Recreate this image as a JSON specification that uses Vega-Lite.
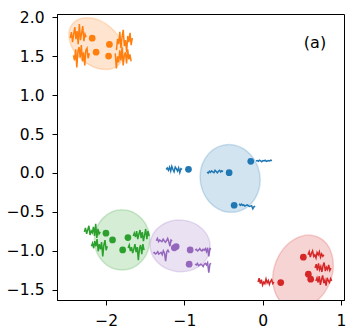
{
"$schema": "https://vega.github.io/schema/vega-lite/v6.json",
"width": 287, "height": 286,
"autosize": {"type": "none"},
"padding": {"left": 57, "top": 14, "right": 16, "bottom": 36},
"background": "white",
"config": {
  "view": {"stroke": "black", "strokeWidth": 1},
  "axis": {"grid": false, "title": null, "domainColor": "black", "domainWidth": 1, "tickColor": "black", "tickSize": 5, "tickWidth": 1, "labelFont": "DejaVu Sans", "labelFontSize": 15.5, "labelColor": "black", "labelPadding": 8}
},
"datasets": {
  "ellipses": [
    {"c": "orange", "x": -2.128, "y": 1.66, "d": 0.79, "a": 40},
    {"c": "blue", "x": -0.416, "y": -0.07, "d": 0.87, "a": 80},
    {"c": "green", "x": -1.798, "y": -0.859, "d": 0.77, "a": 90},
    {"c": "purple", "x": -1.055, "y": -0.936, "d": 0.77, "a": 5},
    {"c": "red", "x": 0.516, "y": -1.27, "d": 0.97, "a": 292}
  ],
  "dots": [
    {"c": "orange", "x": -2.18, "y": 1.73}, {"c": "orange", "x": -1.96, "y": 1.65}, {"c": "orange", "x": -2.13, "y": 1.55}, {"c": "orange", "x": -1.97, "y": 1.50},
    {"c": "blue", "x": -0.949, "y": 0.047}, {"c": "blue", "x": -0.429, "y": 0.004}, {"c": "blue", "x": -0.152, "y": 0.15}, {"c": "blue", "x": -0.365, "y": -0.414},
    {"c": "green", "x": -2.004, "y": -0.773}, {"c": "green", "x": -1.92, "y": -0.859}, {"c": "green", "x": -1.723, "y": -0.829}, {"c": "green", "x": -1.79, "y": -0.987},
    {"c": "purple", "x": -1.106, "y": -0.945}, {"c": "purple", "x": -1.13, "y": -0.96}, {"c": "purple", "x": -0.927, "y": -0.987}, {"c": "purple", "x": -0.94, "y": -1.17},
    {"c": "red", "x": 0.52, "y": -1.08}, {"c": "red", "x": 0.231, "y": -1.406}, {"c": "red", "x": 0.584, "y": -1.299}, {"c": "red", "x": 0.614, "y": -1.363}
  ],
  "glyphs": [
    {"g":"o1","c":"orange","x":-2.460,"y":1.730},{"g":"o1","c":"orange","x":-2.446,"y":1.808},{"g":"o1","c":"orange","x":-2.431,"y":1.678},{"g":"o1","c":"orange","x":-2.417,"y":1.782},{"g":"o1","c":"orange","x":-2.402,"y":1.873},{"g":"o1","c":"orange","x":-2.388,"y":1.717},{"g":"o1","c":"orange","x":-2.373,"y":1.821},{"g":"o1","c":"orange","x":-2.359,"y":1.652},{"g":"o1","c":"orange","x":-2.344,"y":1.912},{"g":"o1","c":"orange","x":-2.330,"y":1.704},{"g":"o1","c":"orange","x":-2.315,"y":1.795},{"g":"o1","c":"orange","x":-2.301,"y":1.886},{"g":"o1","c":"orange","x":-2.286,"y":1.691},{"g":"o1","c":"orange","x":-2.272,"y":1.782},{"g":"o1","c":"orange","x":-2.257,"y":1.743},
    {"g":"o2","c":"orange","x":-2.420,"y":1.510},{"g":"o2","c":"orange","x":-2.406,"y":1.445},{"g":"o2","c":"orange","x":-2.391,"y":1.588},{"g":"o2","c":"orange","x":-2.377,"y":1.354},{"g":"o2","c":"orange","x":-2.362,"y":1.562},{"g":"o2","c":"orange","x":-2.348,"y":1.614},{"g":"o2","c":"orange","x":-2.333,"y":1.484},{"g":"o2","c":"orange","x":-2.319,"y":1.640},{"g":"o2","c":"orange","x":-2.304,"y":1.432},{"g":"o2","c":"orange","x":-2.290,"y":1.549},{"g":"o2","c":"orange","x":-2.275,"y":1.380},{"g":"o2","c":"orange","x":-2.261,"y":1.575},{"g":"o2","c":"orange","x":-2.246,"y":1.601},{"g":"o2","c":"orange","x":-2.232,"y":1.471},{"g":"o2","c":"orange","x":-2.217,"y":1.536},
    {"g":"o3","c":"orange","x":-1.870,"y":1.576},{"g":"o3","c":"orange","x":-1.856,"y":1.719},{"g":"o3","c":"orange","x":-1.841,"y":1.654},{"g":"o3","c":"orange","x":-1.827,"y":1.810},{"g":"o3","c":"orange","x":-1.812,"y":1.602},{"g":"o3","c":"orange","x":-1.798,"y":1.745},{"g":"o3","c":"orange","x":-1.783,"y":1.836},{"g":"o3","c":"orange","x":-1.769,"y":1.628},{"g":"o3","c":"orange","x":-1.754,"y":1.706},{"g":"o3","c":"orange","x":-1.740,"y":1.550},{"g":"o3","c":"orange","x":-1.725,"y":1.758},{"g":"o3","c":"orange","x":-1.711,"y":1.680},{"g":"o3","c":"orange","x":-1.696,"y":1.797},{"g":"o3","c":"orange","x":-1.682,"y":1.641},{"g":"o3","c":"orange","x":-1.667,"y":1.732},
    {"g":"o4","c":"orange","x":-1.885,"y":1.535},{"g":"o4","c":"orange","x":-1.871,"y":1.340},{"g":"o4","c":"orange","x":-1.856,"y":1.496},{"g":"o4","c":"orange","x":-1.842,"y":1.418},{"g":"o4","c":"orange","x":-1.827,"y":1.574},{"g":"o4","c":"orange","x":-1.813,"y":1.444},{"g":"o4","c":"orange","x":-1.798,"y":1.613},{"g":"o4","c":"orange","x":-1.784,"y":1.379},{"g":"o4","c":"orange","x":-1.769,"y":1.509},{"g":"o4","c":"orange","x":-1.755,"y":1.548},{"g":"o4","c":"orange","x":-1.740,"y":1.405},{"g":"o4","c":"orange","x":-1.726,"y":1.587},{"g":"o4","c":"orange","x":-1.711,"y":1.457},{"g":"o4","c":"orange","x":-1.697,"y":1.522},{"g":"o4","c":"orange","x":-1.682,"y":1.431},
    {"g":"b1","c":"blue","x":-1.234,"y":0.045},{"g":"b1","c":"blue","x":-1.220,"y":0.065},{"g":"b1","c":"blue","x":-1.205,"y":0.035},{"g":"b1","c":"blue","x":-1.191,"y":0.075},{"g":"b1","c":"blue","x":-1.176,"y":0.025},{"g":"b1","c":"blue","x":-1.162,"y":0.085},{"g":"b1","c":"blue","x":-1.147,"y":0.045},{"g":"b1","c":"blue","x":-1.133,"y":0.015},{"g":"b1","c":"blue","x":-1.118,"y":0.075},{"g":"b1","c":"blue","x":-1.104,"y":0.055},{"g":"b1","c":"blue","x":-1.089,"y":0.025},{"g":"b1","c":"blue","x":-1.075,"y":0.065},{"g":"b1","c":"blue","x":-1.060,"y":0.005},{"g":"b1","c":"blue","x":-1.046,"y":0.055},{"g":"b1","c":"blue","x":-1.031,"y":0.045},
    {"g":"b2","c":"blue","x":-0.710,"y":0.013},{"g":"b2","c":"blue","x":-0.696,"y":-0.002},{"g":"b2","c":"blue","x":-0.681,"y":0.023},{"g":"b2","c":"blue","x":-0.667,"y":0.008},{"g":"b2","c":"blue","x":-0.652,"y":0.028},{"g":"b2","c":"blue","x":-0.638,"y":0.013},{"g":"b2","c":"blue","x":-0.623,"y":0.003},{"g":"b2","c":"blue","x":-0.609,"y":0.033},{"g":"b2","c":"blue","x":-0.594,"y":0.018},{"g":"b2","c":"blue","x":-0.580,"y":0.003},{"g":"b2","c":"blue","x":-0.565,"y":0.023},{"g":"b2","c":"blue","x":-0.551,"y":0.033},{"g":"b2","c":"blue","x":-0.536,"y":0.013},{"g":"b2","c":"blue","x":-0.522,"y":0.028},{"g":"b2","c":"blue","x":-0.507,"y":0.018},
    {"g":"b3","c":"blue","x":-0.084,"y":0.154},{"g":"b3","c":"blue","x":-0.070,"y":0.159},{"g":"b3","c":"blue","x":-0.055,"y":0.149},{"g":"b3","c":"blue","x":-0.041,"y":0.164},{"g":"b3","c":"blue","x":-0.026,"y":0.154},{"g":"b3","c":"blue","x":-0.012,"y":0.144},{"g":"b3","c":"blue","x":0.003,"y":0.159},{"g":"b3","c":"blue","x":0.018,"y":0.154},{"g":"b3","c":"blue","x":0.032,"y":0.164},{"g":"b3","c":"blue","x":0.047,"y":0.149},{"g":"b3","c":"blue","x":0.061,"y":0.154},{"g":"b3","c":"blue","x":0.076,"y":0.159},{"g":"b3","c":"blue","x":0.090,"y":0.154},{"g":"b3","c":"blue","x":0.105,"y":0.164},{"g":"b3","c":"blue","x":0.119,"y":0.159},
    {"g":"b4","c":"blue","x":-0.300,"y":-0.395},{"g":"b4","c":"blue","x":-0.286,"y":-0.415},{"g":"b4","c":"blue","x":-0.271,"y":-0.400},{"g":"b4","c":"blue","x":-0.257,"y":-0.415},{"g":"b4","c":"blue","x":-0.242,"y":-0.410},{"g":"b4","c":"blue","x":-0.228,"y":-0.425},{"g":"b4","c":"blue","x":-0.213,"y":-0.415},{"g":"b4","c":"blue","x":-0.199,"y":-0.410},{"g":"b4","c":"blue","x":-0.184,"y":-0.420},{"g":"b4","c":"blue","x":-0.170,"y":-0.430},{"g":"b4","c":"blue","x":-0.155,"y":-0.425},{"g":"b4","c":"blue","x":-0.141,"y":-0.420},{"g":"b4","c":"blue","x":-0.126,"y":-0.460},{"g":"b4","c":"blue","x":-0.112,"y":-0.435},{"g":"b4","c":"blue","x":-0.097,"y":-0.425},
    {"g":"g1","c":"green","x":-2.280,"y":-0.756},{"g":"g1","c":"green","x":-2.266,"y":-0.704},{"g":"g1","c":"green","x":-2.251,"y":-0.782},{"g":"g1","c":"green","x":-2.237,"y":-0.730},{"g":"g1","c":"green","x":-2.222,"y":-0.678},{"g":"g1","c":"green","x":-2.208,"y":-0.795},{"g":"g1","c":"green","x":-2.193,"y":-0.743},{"g":"g1","c":"green","x":-2.179,"y":-0.769},{"g":"g1","c":"green","x":-2.164,"y":-0.691},{"g":"g1","c":"green","x":-2.150,"y":-0.808},{"g":"g1","c":"green","x":-2.135,"y":-0.652},{"g":"g1","c":"green","x":-2.121,"y":-0.834},{"g":"g1","c":"green","x":-2.106,"y":-0.717},{"g":"g1","c":"green","x":-2.092,"y":-0.782},{"g":"g1","c":"green","x":-2.077,"y":-0.756},
    {"g":"g2","c":"green","x":-2.190,"y":-0.940},{"g":"g2","c":"green","x":-2.176,"y":-0.901},{"g":"g2","c":"green","x":-2.161,"y":-0.966},{"g":"g2","c":"green","x":-2.147,"y":-0.875},{"g":"g2","c":"green","x":-2.132,"y":-0.940},{"g":"g2","c":"green","x":-2.118,"y":-0.849},{"g":"g2","c":"green","x":-2.103,"y":-1.005},{"g":"g2","c":"green","x":-2.089,"y":-0.914},{"g":"g2","c":"green","x":-2.074,"y":-0.979},{"g":"g2","c":"green","x":-2.060,"y":-0.888},{"g":"g2","c":"green","x":-2.045,"y":-1.070},{"g":"g2","c":"green","x":-2.031,"y":-0.927},{"g":"g2","c":"green","x":-2.016,"y":-0.862},{"g":"g2","c":"green","x":-2.002,"y":-0.992},{"g":"g2","c":"green","x":-1.987,"y":-0.940},
    {"g":"g3","c":"green","x":-1.655,"y":-0.810},{"g":"g3","c":"green","x":-1.641,"y":-0.771},{"g":"g3","c":"green","x":-1.626,"y":-0.823},{"g":"g3","c":"green","x":-1.612,"y":-0.745},{"g":"g3","c":"green","x":-1.597,"y":-0.849},{"g":"g3","c":"green","x":-1.583,"y":-0.784},{"g":"g3","c":"green","x":-1.568,"y":-0.732},{"g":"g3","c":"green","x":-1.554,"y":-0.836},{"g":"g3","c":"green","x":-1.539,"y":-0.758},{"g":"g3","c":"green","x":-1.525,"y":-0.875},{"g":"g3","c":"green","x":-1.510,"y":-0.797},{"g":"g3","c":"green","x":-1.496,"y":-0.719},{"g":"g3","c":"green","x":-1.481,"y":-0.849},{"g":"g3","c":"green","x":-1.467,"y":-0.745},{"g":"g3","c":"green","x":-1.452,"y":-0.810},
    {"g":"g4","c":"green","x":-1.720,"y":-0.964},{"g":"g4","c":"green","x":-1.706,"y":-0.925},{"g":"g4","c":"green","x":-1.691,"y":-1.003},{"g":"g4","c":"green","x":-1.677,"y":-0.951},{"g":"g4","c":"green","x":-1.662,"y":-1.029},{"g":"g4","c":"green","x":-1.648,"y":-0.977},{"g":"g4","c":"green","x":-1.633,"y":-0.912},{"g":"g4","c":"green","x":-1.619,"y":-1.016},{"g":"g4","c":"green","x":-1.604,"y":-0.951},{"g":"g4","c":"green","x":-1.590,"y":-1.120},{"g":"g4","c":"green","x":-1.575,"y":-0.964},{"g":"g4","c":"green","x":-1.561,"y":-0.925},{"g":"g4","c":"green","x":-1.546,"y":-1.042},{"g":"g4","c":"green","x":-1.532,"y":-0.912},{"g":"g4","c":"green","x":-1.517,"y":-0.990},
    {"g":"p1","c":"purple","x":-1.360,"y":-0.870},{"g":"p1","c":"purple","x":-1.346,"y":-0.840},{"g":"p1","c":"purple","x":-1.331,"y":-0.880},{"g":"p1","c":"purple","x":-1.317,"y":-0.860},{"g":"p1","c":"purple","x":-1.302,"y":-0.870},{"g":"p1","c":"purple","x":-1.288,"y":-0.880},{"g":"p1","c":"purple","x":-1.273,"y":-0.850},{"g":"p1","c":"purple","x":-1.259,"y":-0.870},{"g":"p1","c":"purple","x":-1.244,"y":-0.890},{"g":"p1","c":"purple","x":-1.230,"y":-0.870},{"g":"p1","c":"purple","x":-1.215,"y":-0.840},{"g":"p1","c":"purple","x":-1.201,"y":-0.880},{"g":"p1","c":"purple","x":-1.186,"y":-0.940},{"g":"p1","c":"purple","x":-1.172,"y":-0.860},{"g":"p1","c":"purple","x":-1.157,"y":-0.870},
    {"g":"p2","c":"purple","x":-1.400,"y":-1.030},{"g":"p2","c":"purple","x":-1.386,"y":-1.020},{"g":"p2","c":"purple","x":-1.371,"y":-1.040},{"g":"p2","c":"purple","x":-1.357,"y":-1.030},{"g":"p2","c":"purple","x":-1.342,"y":-1.010},{"g":"p2","c":"purple","x":-1.328,"y":-1.040},{"g":"p2","c":"purple","x":-1.313,"y":-1.030},{"g":"p2","c":"purple","x":-1.299,"y":-1.020},{"g":"p2","c":"purple","x":-1.284,"y":-1.050},{"g":"p2","c":"purple","x":-1.270,"y":-1.000},{"g":"p2","c":"purple","x":-1.255,"y":-1.030},{"g":"p2","c":"purple","x":-1.241,"y":-1.130},{"g":"p2","c":"purple","x":-1.226,"y":-1.010},{"g":"p2","c":"purple","x":-1.212,"y":-0.990},{"g":"p2","c":"purple","x":-1.197,"y":-1.020},
    {"g":"p3","c":"purple","x":-0.863,"y":-0.990},{"g":"p3","c":"purple","x":-0.849,"y":-0.980},{"g":"p3","c":"purple","x":-0.834,"y":-1.000},{"g":"p3","c":"purple","x":-0.820,"y":-0.990},{"g":"p3","c":"purple","x":-0.805,"y":-0.970},{"g":"p3","c":"purple","x":-0.791,"y":-0.990},{"g":"p3","c":"purple","x":-0.776,"y":-1.000},{"g":"p3","c":"purple","x":-0.762,"y":-0.980},{"g":"p3","c":"purple","x":-0.747,"y":-0.990},{"g":"p3","c":"purple","x":-0.733,"y":-0.970},{"g":"p3","c":"purple","x":-0.718,"y":-1.010},{"g":"p3","c":"purple","x":-0.704,"y":-0.960},{"g":"p3","c":"purple","x":-0.689,"y":-1.070},{"g":"p3","c":"purple","x":-0.675,"y":-0.970},{"g":"p3","c":"purple","x":-0.660,"y":-0.980},
    {"g":"p4","c":"purple","x":-0.863,"y":-1.170},{"g":"p4","c":"purple","x":-0.849,"y":-1.180},{"g":"p4","c":"purple","x":-0.834,"y":-1.160},{"g":"p4","c":"purple","x":-0.820,"y":-1.190},{"g":"p4","c":"purple","x":-0.805,"y":-1.180},{"g":"p4","c":"purple","x":-0.791,"y":-1.170},{"g":"p4","c":"purple","x":-0.776,"y":-1.180},{"g":"p4","c":"purple","x":-0.762,"y":-1.200},{"g":"p4","c":"purple","x":-0.747,"y":-1.170},{"g":"p4","c":"purple","x":-0.733,"y":-1.160},{"g":"p4","c":"purple","x":-0.718,"y":-1.180},{"g":"p4","c":"purple","x":-0.704,"y":-1.150},{"g":"p4","c":"purple","x":-0.689,"y":-1.280},{"g":"p4","c":"purple","x":-0.675,"y":-1.170},{"g":"p4","c":"purple","x":-0.660,"y":-1.160},
    {"g":"r1","c":"red","x":-0.059,"y":-1.400},{"g":"r1","c":"red","x":-0.045,"y":-1.350},{"g":"r1","c":"red","x":-0.030,"y":-1.420},{"g":"r1","c":"red","x":-0.016,"y":-1.370},{"g":"r1","c":"red","x":-0.001,"y":-1.440},{"g":"r1","c":"red","x":0.014,"y":-1.400},{"g":"r1","c":"red","x":0.028,"y":-1.420},{"g":"r1","c":"red","x":0.043,"y":-1.360},{"g":"r1","c":"red","x":0.057,"y":-1.410},{"g":"r1","c":"red","x":0.072,"y":-1.380},{"g":"r1","c":"red","x":0.086,"y":-1.430},{"g":"r1","c":"red","x":0.101,"y":-1.390},{"g":"r1","c":"red","x":0.115,"y":-1.370},{"g":"r1","c":"red","x":0.130,"y":-1.420},{"g":"r1","c":"red","x":0.144,"y":-1.400},
    {"g":"r2","c":"red","x":0.580,"y":-1.050},{"g":"r2","c":"red","x":0.595,"y":-1.010},{"g":"r2","c":"red","x":0.609,"y":-1.080},{"g":"r2","c":"red","x":0.624,"y":-1.030},{"g":"r2","c":"red","x":0.638,"y":-1.000},{"g":"r2","c":"red","x":0.653,"y":-1.070},{"g":"r2","c":"red","x":0.667,"y":-1.050},{"g":"r2","c":"red","x":0.682,"y":-1.090},{"g":"r2","c":"red","x":0.696,"y":-1.020},{"g":"r2","c":"red","x":0.711,"y":-1.050},{"g":"r2","c":"red","x":0.725,"y":-1.010},{"g":"r2","c":"red","x":0.740,"y":-1.080},{"g":"r2","c":"red","x":0.754,"y":-1.040},{"g":"r2","c":"red","x":0.769,"y":-1.070},{"g":"r2","c":"red","x":0.783,"y":-1.050},
    {"g":"r3","c":"red","x":0.670,"y":-1.220},{"g":"r3","c":"red","x":0.685,"y":-1.170},{"g":"r3","c":"red","x":0.699,"y":-1.250},{"g":"r3","c":"red","x":0.714,"y":-1.160},{"g":"r3","c":"red","x":0.728,"y":-1.240},{"g":"r3","c":"red","x":0.743,"y":-1.200},{"g":"r3","c":"red","x":0.757,"y":-1.270},{"g":"r3","c":"red","x":0.772,"y":-1.190},{"g":"r3","c":"red","x":0.786,"y":-1.150},{"g":"r3","c":"red","x":0.801,"y":-1.260},{"g":"r3","c":"red","x":0.815,"y":-1.210},{"g":"r3","c":"red","x":0.830,"y":-1.240},{"g":"r3","c":"red","x":0.844,"y":-1.180},{"g":"r3","c":"red","x":0.859,"y":-1.250},{"g":"r3","c":"red","x":0.873,"y":-1.220},
    {"g":"r4","c":"red","x":0.680,"y":-1.385},{"g":"r4","c":"red","x":0.695,"y":-1.345},{"g":"r4","c":"red","x":0.709,"y":-1.405},{"g":"r4","c":"red","x":0.724,"y":-1.325},{"g":"r4","c":"red","x":0.738,"y":-1.435},{"g":"r4","c":"red","x":0.753,"y":-1.365},{"g":"r4","c":"red","x":0.767,"y":-1.315},{"g":"r4","c":"red","x":0.782,"y":-1.415},{"g":"r4","c":"red","x":0.796,"y":-1.375},{"g":"r4","c":"red","x":0.811,"y":-1.445},{"g":"r4","c":"red","x":0.825,"y":-1.345},{"g":"r4","c":"red","x":0.840,"y":-1.385},{"g":"r4","c":"red","x":0.854,"y":-1.405},{"g":"r4","c":"red","x":0.869,"y":-1.355},{"g":"r4","c":"red","x":0.883,"y":-1.385}
  ]
},
"layer": [
  {
    "data": {"name": "ellipses"},
    "mark": {"type": "point", "filled": true, "opacity": 1, "fillOpacity": 0.2, "strokeOpacity": 0.2, "strokeWidth": 1.5, "clip": true},
    "encoding": {
      "x": {"field": "x", "type": "quantitative", "scale": {"domain": [-2.63, 1.04], "nice": false, "zero": false}, "axis": {"values": [-2, -1, 0, 1], "format": "d"}},
      "y": {"field": "y", "type": "quantitative", "scale": {"domain": [-1.63, 2.04], "nice": false, "zero": false}, "axis": {"values": [-1.5, -1, -0.5, 0, 0.5, 1, 1.5, 2], "format": ".1f"}},
      "fill": {"field": "c", "type": "nominal", "scale": {"domain": ["blue", "orange", "green", "red", "purple"], "range": ["#1f77b4", "#ff7f0e", "#2ca02c", "#d62728", "#9467bd"]}, "legend": null},
      "stroke": {"field": "c", "type": "nominal", "scale": {"domain": ["blue", "orange", "green", "red", "purple"], "range": ["#1f77b4", "#ff7f0e", "#2ca02c", "#d62728", "#9467bd"]}, "legend": null},
      "shape": {"field": "c", "type": "nominal", "scale": {"domain": ["blue", "orange", "green", "red", "purple"], "range": [
        "M 1 0 C 1 0.486 0.552 0.88 0 0.88 C -0.552 0.88 -1 0.486 -1 0 C -1 -0.486 -0.552 -0.88 0 -0.88 C 0.552 -0.88 1 -0.486 1 0 Z",
        "M 1 0 C 1 0.387 0.552 0.7 0 0.7 C -0.552 0.7 -1 0.387 -1 0 C -1 -0.387 -0.552 -0.7 0 -0.7 C 0.552 -0.7 1 -0.387 1 0 Z",
        "M 1 0 C 1 0.508 0.552 0.92 0 0.92 C -0.552 0.92 -1 0.508 -1 0 C -1 -0.508 -0.552 -0.92 0 -0.92 C 0.552 -0.92 1 -0.508 1 0 Z",
        "M 1 0 C 1 0.42 0.552 0.76 0 0.76 C -0.552 0.76 -1 0.42 -1 0 C -1 -0.42 -0.552 -0.76 0 -0.76 C 0.552 -0.76 1 -0.42 1 0 Z",
        "M 1 0 C 1 0.475 0.552 0.86 0 0.86 C -0.552 0.86 -1 0.475 -1 0 C -1 -0.475 -0.552 -0.86 0 -0.86 C 0.552 -0.86 1 -0.475 1 0 Z"
      ]}, "legend": null},
      "size": {"field": "d", "type": "quantitative", "scale": {"type": "pow", "exponent": 2, "domain": [0, 1], "range": [0, 6115]}, "legend": null},
      "angle": {"field": "a", "type": "quantitative", "scale": null}
    }
  },
  {
    "data": {"name": "glyphs"},
    "mark": {"type": "line", "strokeWidth": 1.5, "clip": true},
    "encoding": {
      "x": {"field": "x", "type": "quantitative"},
      "y": {"field": "y", "type": "quantitative"},
      "detail": {"field": "g", "type": "nominal"},
      "color": {"field": "c", "type": "nominal", "scale": {"domain": ["blue", "orange", "green", "red", "purple"], "range": ["#1f77b4", "#ff7f0e", "#2ca02c", "#d62728", "#9467bd"]}, "legend": null}
    }
  },
  {
    "data": {"name": "dots"},
    "mark": {"type": "circle", "size": 45, "opacity": 1},
    "encoding": {
      "x": {"field": "x", "type": "quantitative"},
      "y": {"field": "y", "type": "quantitative"},
      "color": {"field": "c", "type": "nominal", "scale": {"domain": ["blue", "orange", "green", "red", "purple"], "range": ["#1f77b4", "#ff7f0e", "#2ca02c", "#d62728", "#9467bd"]}, "legend": null}
    }
  },
  {
    "data": {"values": [{"label": "(a)", "x": 0.669, "y": 1.673}]},
    "mark": {"type": "text", "font": "DejaVu Sans", "fontSize": 16, "color": "black", "align": "center", "baseline": "middle"},
    "encoding": {
      "x": {"field": "x", "type": "quantitative"},
      "y": {"field": "y", "type": "quantitative"},
      "text": {"field": "label", "type": "nominal"}
    }
  }
]
}
